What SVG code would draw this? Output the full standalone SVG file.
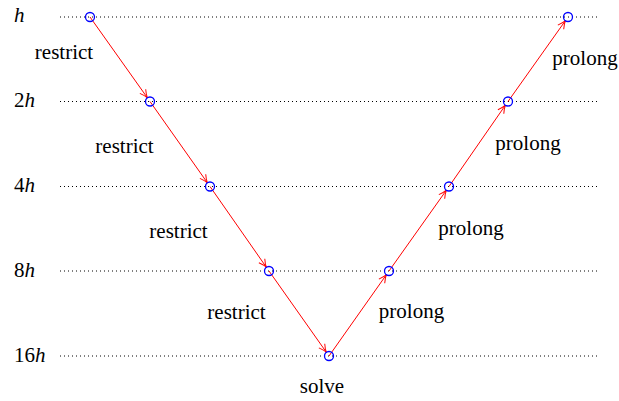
<svg xmlns="http://www.w3.org/2000/svg" width="619" height="401" viewBox="0 0 619 401">
<defs>
<marker id="ah" markerUnits="userSpaceOnUse" viewBox="-10 -5 12 10" refX="0" refY="0" markerWidth="12" markerHeight="10" orient="auto">
<path d="M-8,-3.6 Q-3,-0.6 0,0 Q-3,0.6 -8,3.6" stroke="#ff0000" stroke-width="1" fill="none"/>
</marker>
</defs>
<g id="levels" stroke="#000" stroke-width="1" stroke-dasharray="1 3" fill="none">
<line x1="60" y1="17" x2="597" y2="17"/>
<line x1="60" y1="101.5" x2="597" y2="101.5"/>
<line x1="60" y1="186.5" x2="597" y2="186.5"/>
<line x1="60" y1="271" x2="597" y2="271"/>
<line x1="60" y1="356" x2="597" y2="356"/>
</g>
<g id="levellabels" font-family="Liberation Serif" font-size="21" fill="#000">
<text x="14" y="22" font-style="italic">h</text>
<text x="14" y="107">2<tspan font-style="italic">h</tspan></text>
<text x="14" y="192">4<tspan font-style="italic">h</tspan></text>
<text x="14" y="277">8<tspan font-style="italic">h</tspan></text>
<text x="14" y="362">16<tspan font-style="italic">h</tspan></text>
</g>
<g id="connectors" stroke="#ff0000" stroke-width="1" fill="none" marker-end="url(#ah)">
<line x1="90" y1="17" x2="147.4" y2="97.8"/>
<line x1="150" y1="101.5" x2="207.4" y2="182.8"/>
<line x1="210" y1="186.5" x2="266.4" y2="267.3"/>
<line x1="269" y1="271" x2="326.4" y2="352.3"/>
<line x1="329" y1="356" x2="386.4" y2="274.7"/>
<line x1="389" y1="271" x2="446.4" y2="190.2"/>
<line x1="449" y1="186.5" x2="505.4" y2="105.2"/>
<line x1="508" y1="101.5" x2="565.4" y2="20.7"/>
</g>
<g id="labels" font-family="Liberation Serif" font-size="21" fill="#000" text-anchor="middle">
<text x="64" y="59">restrict</text>
<text x="124.5" y="153">restrict</text>
<text x="178.5" y="238">restrict</text>
<text x="236.5" y="319">restrict</text>
<text x="322" y="393">solve</text>
<text x="411.5" y="318">prolong</text>
<text x="471" y="235">prolong</text>
<text x="528" y="150">prolong</text>
<text x="585" y="65">prolong</text>
</g>
<g id="n1"><circle cx="90" cy="17" r="4.5" fill="none" stroke="#0000ff" stroke-width="1.3"/></g>
<g id="n2"><circle cx="150" cy="101.5" r="4.5" fill="none" stroke="#0000ff" stroke-width="1.3"/></g>
<g id="n3"><circle cx="210" cy="186.5" r="4.5" fill="none" stroke="#0000ff" stroke-width="1.3"/></g>
<g id="n4"><circle cx="269" cy="271" r="4.5" fill="none" stroke="#0000ff" stroke-width="1.3"/></g>
<g id="n5"><circle cx="329" cy="356" r="4.5" fill="none" stroke="#0000ff" stroke-width="1.3"/></g>
<g id="n6"><circle cx="389" cy="271" r="4.5" fill="none" stroke="#0000ff" stroke-width="1.3"/></g>
<g id="n7"><circle cx="449" cy="186.5" r="4.5" fill="none" stroke="#0000ff" stroke-width="1.3"/></g>
<g id="n8"><circle cx="508" cy="101.5" r="4.5" fill="none" stroke="#0000ff" stroke-width="1.3"/></g>
<g id="n9"><circle cx="568" cy="17" r="4.5" fill="none" stroke="#0000ff" stroke-width="1.3"/></g>
</svg>
